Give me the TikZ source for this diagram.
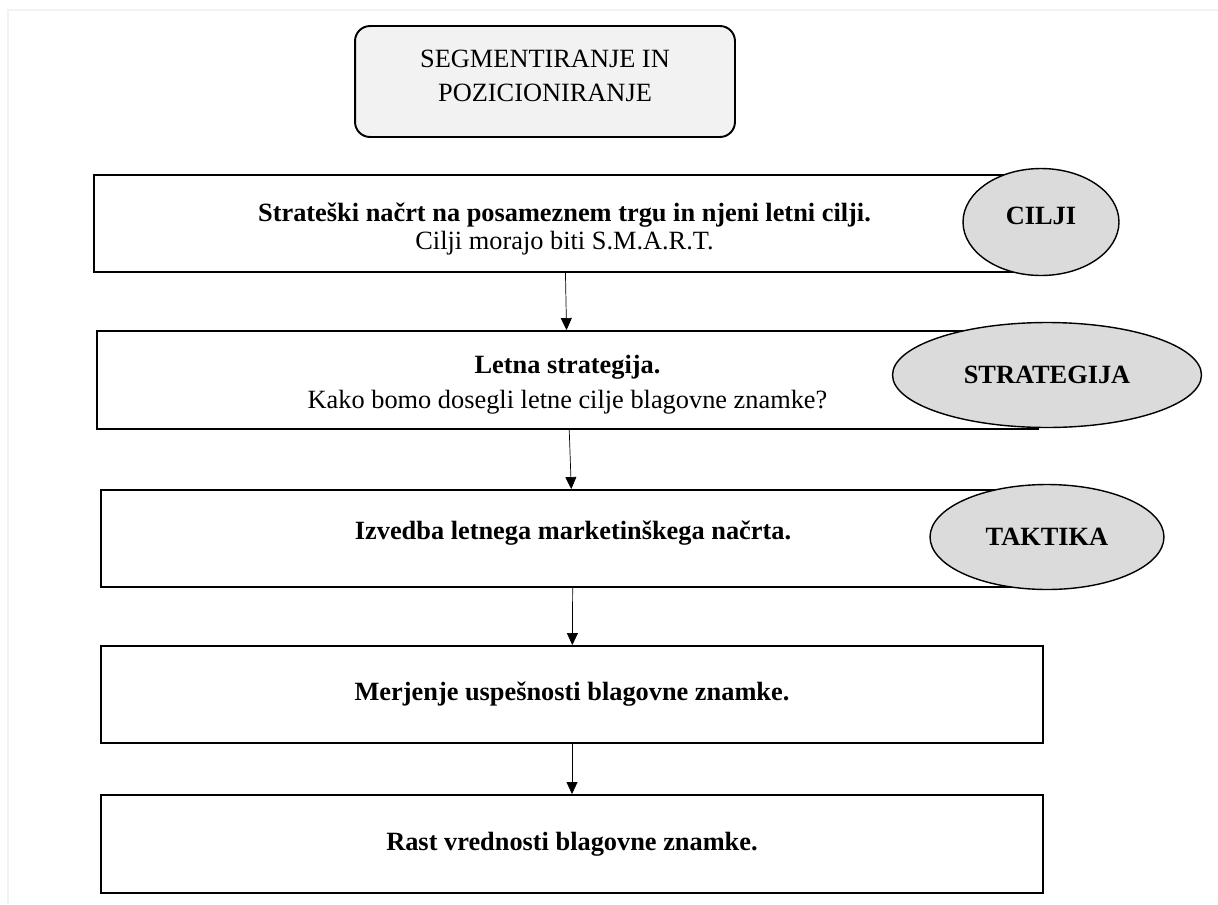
\documentclass[tikz,border=0pt]{standalone}
\usepackage{fontspec}
\setmainfont{Liberation Serif}
\usetikzlibrary{shapes.geometric,arrows.meta}

\begin{document}
\begin{tikzpicture}[x=0.02cm, y=-0.02cm,
    every node/.style={font=\fontsize{15}{18}\selectfont, align=center},
    stepbox/.style={draw, line width=1.1pt, rectangle, inner sep=0pt},
    tagoval/.style={ellipse, draw, line width=0.8pt, fill=gray!28,
      inner sep=0pt, font=\fontsize{15}{18}\selectfont\bfseries},
    flow/.style={-{Triangle[length=2.4mm, width=2.2mm]}, line width=0.4pt}]
  \useasboundingbox (0,0) rectangle (1218,904);
  \draw[gray!10, line width=1.2pt] (1218,10) -- (8,10) -- (8,904);

  %% ---------- top: rounded start box ----------
  \node[draw, line width=1.1pt, rounded corners=0.3cm, fill=gray!10,
        minimum width=7.6cm, minimum height=2.22cm, inner sep=0pt,
        font=\fontsize{15}{19.5}\selectfont, text depth=6.5pt]
    (seg) at (545,81.5) {SEGMENTIRANJE IN\\POZICIONIRANJE};

  %% ---------- steps of the plan ----------
  \node[stepbox, minimum width=18.82cm, minimum height=1.94cm,
        font=\fontsize{15}{16}\selectfont] (b1) at (564.5,223.5)
    {\rule{0pt}{17pt}{\bfseries Strateški načrt na posameznem trgu in njeni letni cilji.}\\Cilji morajo biti S.M.A.R.T.};
  \node[stepbox, minimum width=18.82cm, minimum height=1.96cm, text depth=0pt] (b2) at (567.5,380)
    {\rule{0pt}{13pt}{\bfseries Letna strategija.}\\[2pt]Kako bomo dosegli letne cilje blagovne znamke?};
  \node[stepbox, minimum width=18.88cm, minimum height=1.94cm, text depth=10pt] (b3) at (573,538.5)
    {\bfseries Izvedba letnega marketinškega načrta.};
  \node[stepbox, minimum width=18.84cm, minimum height=1.94cm] (b4) at (572,694.5)
    {\bfseries Merjenje uspešnosti blagovne znamke.};
  \node[stepbox, minimum width=18.84cm, minimum height=1.96cm] (b5) at (572,844)
    {\bfseries Rast vrednosti blagovne znamke.};

  % arrows between the steps
  \draw[flow] (b1) -- (b2);
  \draw[flow] (b2) -- (b3);
  \draw[flow] (b3) -- (b4);
  \draw[flow] (b4) -- (b5);

  %% ---------- right: level tags ----------
  \node[tagoval, minimum width=3.12cm, minimum height=2.14cm, text depth=7pt] (cilji) at (1041,222) {CILJI};
  \node[tagoval, minimum width=6.18cm, minimum height=2.1cm] (strat) at (1047,375) {STRATEGIJA};
  \node[tagoval, minimum width=4.68cm, minimum height=2.1cm] (takt) at (1047,537) {TAKTIKA};
\end{tikzpicture}
\end{document}
